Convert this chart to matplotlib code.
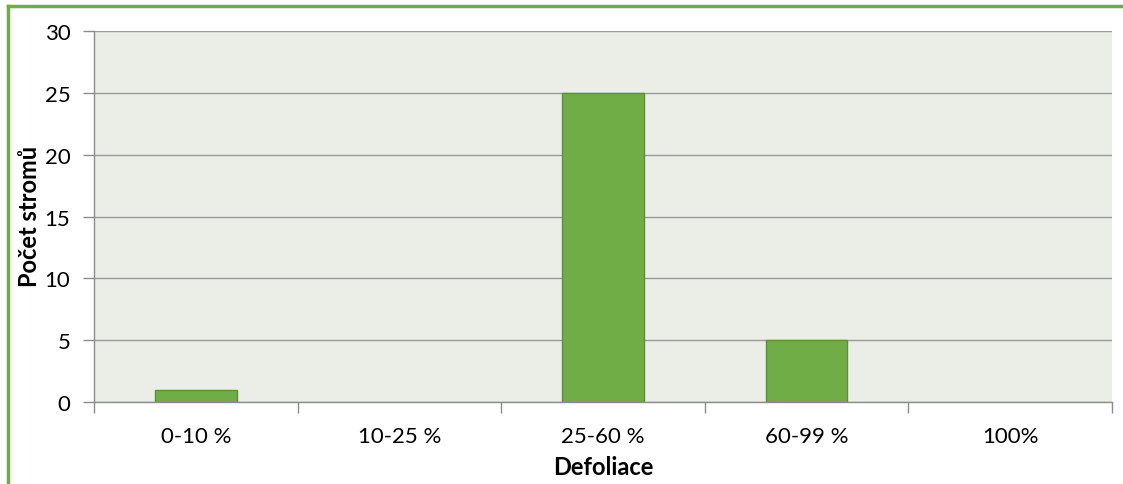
import matplotlib.pyplot as plt
from matplotlib.lines import Line2D
import numpy as np

categories = ["0-10 %", "10-25 %", "25-60 %", "60-99 %", "100%"]
counts = [1, 0, 25, 5, 0]
y_ticks = [0, 5, 10, 15, 20, 25, 30]

plt.rcParams['font.family'] = ['Lato', 'DejaVu Sans']

fig = plt.figure(figsize=(11.23, 4.85), dpi=100)
ax = fig.add_axes([94 / 1123, 1 - 403 / 485, (1112 - 94) / 1123, (403 - 32) / 485])

ax.set_facecolor('#EAEEE7')
x = np.arange(len(categories))
widths = [1 if c > 0 else 0 for c in counts]
ax.bar(x, counts, width=0.40, color='#70AD47', edgecolor='#5B8F3A',
       linewidth=widths, zorder=3)

ax.set_xlim(-0.5, len(categories) - 0.5)
ax.set_ylim(0, 30)
ax.set_yticks(y_ticks)
ax.set_yticklabels([str(v) for v in y_ticks], fontsize=16)

ax.set_xticks(x)
ax.set_xticklabels(categories, fontsize=16)
ax.tick_params(axis='x', length=0, pad=17)
ax.set_xticks(np.arange(-0.5, len(categories)), minor=True)
ax.tick_params(axis='x', which='minor', length=8, color='#8C8C8C', width=1)
ax.tick_params(axis='y', length=8, color='#8C8C8C', width=1, pad=9)

ax.yaxis.grid(True, color='#9A9A9A', linewidth=1, zorder=0)
ax.set_axisbelow(True)
for s in ['top', 'right']:
    ax.spines[s].set_visible(False)
for s in ['left', 'bottom']:
    ax.spines[s].set_color('#8C8C8C')
    ax.spines[s].set_linewidth(1)

ax.set_xlabel("Defoliace", fontsize=17, fontweight='bold')
ax.set_ylabel("Počet stromů", fontsize=17, fontweight='bold')
ax.xaxis.set_label_coords(0.5, -(456 - 403) / 371)
ax.yaxis.set_label_coords(-0.052, 0.504)

# green frame around the chart (top and left edges visible)
fig.add_artist(Line2D([8 / 1123, 1.0], [1 - 7 / 485, 1 - 7 / 485], color='#70AD47', linewidth=2.5))
fig.add_artist(Line2D([8 / 1123, 8 / 1123], [0, 1 - 7 / 485], color='#70AD47', linewidth=2.5))

fig.savefig("out.png", dpi=100)
